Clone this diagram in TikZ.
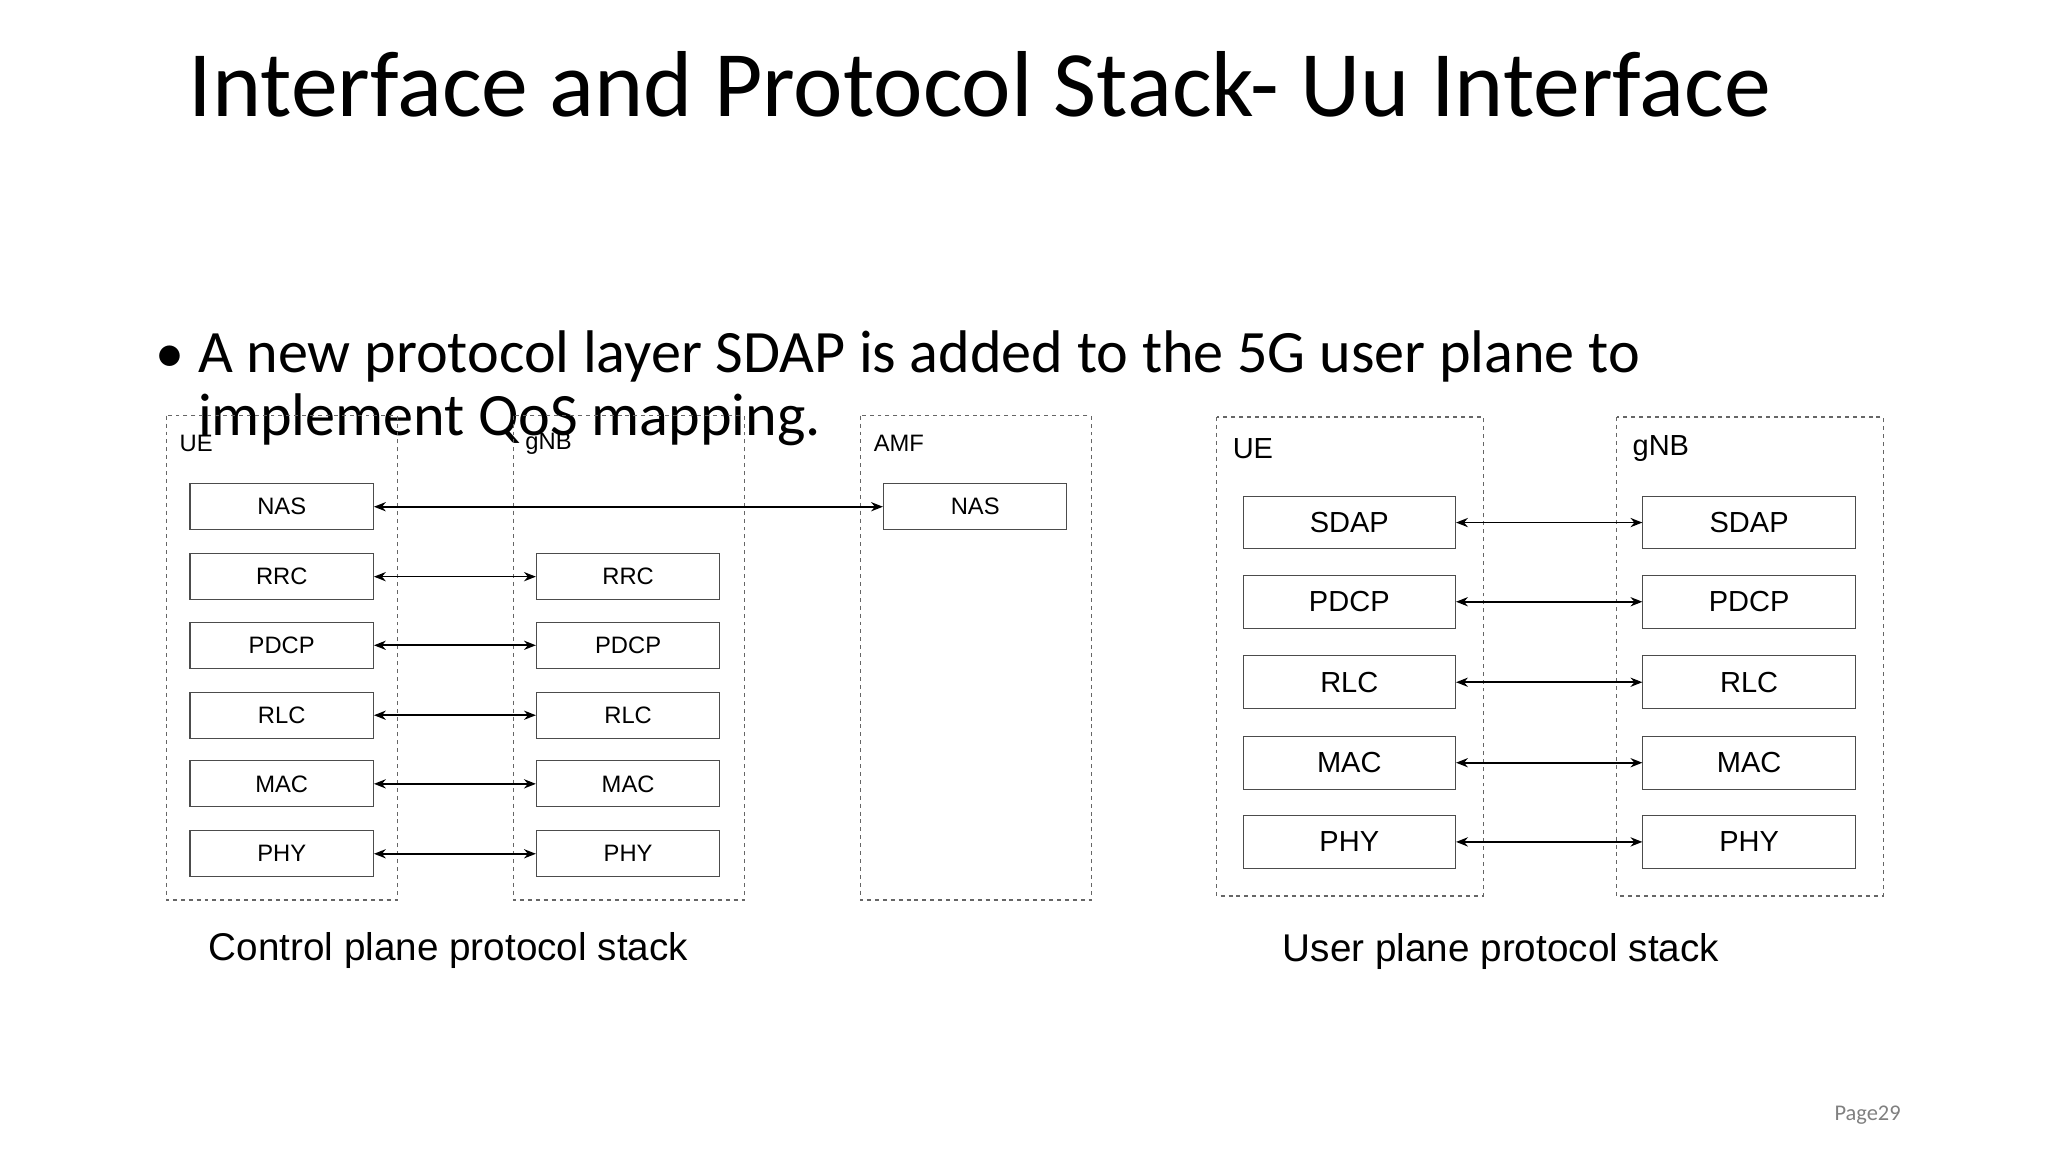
\documentclass[tikz,border=0pt]{standalone}
\usepackage{fontspec}
\setmainfont{Carlito}
\newfontfamily\arial{Liberation Sans}
\usetikzlibrary{arrows.meta}
\begin{document}
\begin{tikzpicture}[x=1pt,y=-1pt,
  grp/.style={draw=gray!80!black,dashed,line width=0.8pt},
  lb/.style={draw=black!70,line width=0.8pt,minimum width=139pt,minimum height=35pt,inner sep=0pt,font=\arial\fontsize{18}{20}\selectfont},
  rb/.style={draw=black!70,line width=0.8pt,minimum width=161pt,minimum height=40pt,inner sep=0pt,font=\arial\fontsize{22}{24}\selectfont},
  gl/.style={anchor=west,inner sep=0pt,font=\arial\fontsize{18}{20}\selectfont},
  gr/.style={anchor=west,inner sep=0pt,font=\arial\fontsize{22}{24}\selectfont},
  lnk/.style={{Stealth[length=9pt,width=7pt]}-{Stealth[length=9pt,width=7pt]},line width=1.2pt}]
\useasboundingbox (0,0) rectangle (1552,873);
\node[anchor=base west,inner sep=0pt,font=\fontsize{71}{74}\selectfont] (title) at (143,88) {Interface and Protocol Stack- Uu Interface};
\node[anchor=base west,inner sep=0pt,font=\fontsize{44}{50}\selectfont] (bul) at (118,282) {•};
\node[anchor=base west,inner sep=0pt,font=\fontsize{45.6}{50}\selectfont] (b1) at (150,282) {A new protocol layer SDAP is added to the 5G user plane to};
\node[anchor=base west,inner sep=0pt,font=\fontsize{45.6}{50}\selectfont] (b2) at (150,330) {implement QoS mapping.};
% control plane
\draw[grp] (126,315) rectangle (301,682);
\draw[grp] (389,315) rectangle (564,682);
\draw[grp] (652,315) rectangle (827,682);
\node[gl] (ue1) at (136,336) {UE};
\node[gl] (gnb1) at (398,336) {gNB};
\node[gl] (amf) at (662,336) {AMF};
\node[lb] (unas) at (213.5,384) {NAS};
\node[lb] (anas) at (739,384) {NAS};
\draw[lnk] (unas) -- (anas);
\foreach \n/\y in {RRC/437,PDCP/489,RLC/542,MAC/594,PHY/647}{
  \node[lb] (u\n) at (213.5,\y) {\n};
  \node[lb] (g\n) at (476,\y) {\n};
  \draw[lnk] (u\n) -- (g\n);
}
\node[anchor=base west,inner sep=0pt,font=\arial\fontsize{29.3}{31}\selectfont] (cap1) at (158,728) {Control plane protocol stack};
% user plane
\draw[grp] (922,316) rectangle (1124,679);
\draw[grp] (1225,316) rectangle (1427,679);
\node[gr] (ue2) at (934,340) {UE};
\node[gr] (gnb2) at (1237,340) {gNB};
\foreach \n/\y in {SDAP/396,PDCP/456,RLC/517,MAC/578,PHY/638}{
  \node[rb] (ru\n) at (1022.5,\y) {\n};
  \node[rb] (rg\n) at (1325.5,\y) {\n};
  \draw[lnk] (ru\n) -- (rg\n);
}
\node[anchor=base west,inner sep=0pt,font=\arial\fontsize{29.3}{31}\selectfont] (cap2) at (972,729) {User plane protocol stack};
\node[anchor=base west,inner sep=0pt,text=gray,font=\fontsize{17}{20}\selectfont] (pg) at (1390,849) {Page29};
\end{tikzpicture}
\end{document}
